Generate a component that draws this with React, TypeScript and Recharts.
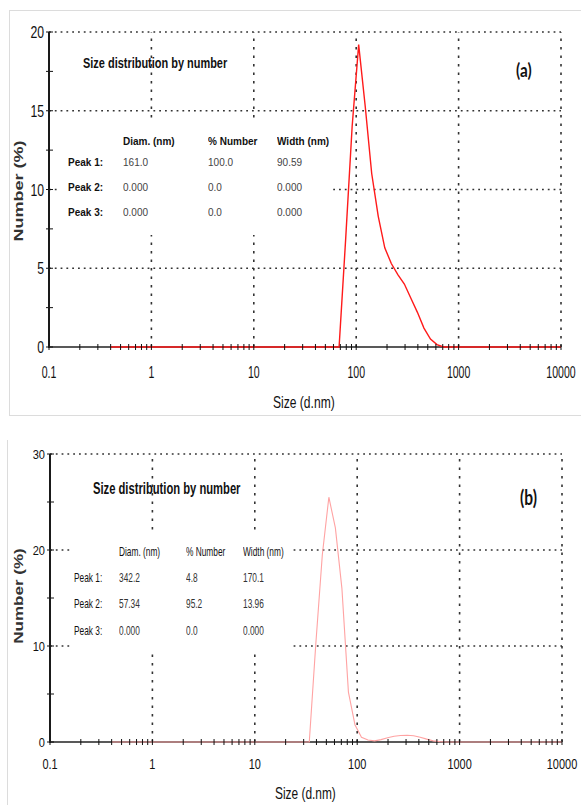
import React from 'react';
import { LineChart, Line, XAxis, YAxis, ReferenceLine } from 'recharts';

// Malvern size classes (d.nm) and % number
const sizesA = [0.4, 58.77, 68.06, 78.82, 91.28, 105.7, 122.4, 141.8, 164.2, 190.1, 220.2, 255.0, 295.3, 342.0, 396.1, 458.7, 531.2, 615.1, 712.4, 825.0, 10000];
const numberA = [0, 0, 0, 6.8, 14.0, 19.2, 15.3, 11.0, 8.3, 6.3, 5.3, 4.6, 4.0, 3.1, 2.2, 1.2, 0.5, 0.15, 0, 0, 0];

const sizesB = [0.4, 29.39, 34.04, 39.42, 45.65, 52.87, 61.22, 70.9, 82.1, 95.07, 110.1, 127.5, 147.7, 171.0, 198.0, 229.3, 265.5, 307.5, 356.1, 412.4, 477.6, 553.1, 640.5, 741.7, 858.9, 10000];
const numberB = [0, 0, 0, 10.2, 19.5, 25.5, 22.3, 16.0, 5.2, 1.8, 0.5, 0.2, 0.12, 0.25, 0.45, 0.6, 0.68, 0.7, 0.65, 0.5, 0.3, 0.12, 0.04, 0, 0, 0];

const majorSizes = [0.1, 1, 10, 100, 1000, 10000];
const minorSteps = [2, 3, 4, 5, 6, 7, 8, 9];
const sizeTickLabels = ['0.1', '1', '10', '100', '1000', '10000'];

const yTicksA = [0, 2.5, 5, 7.5, 10, 12.5, 15, 17.5, 20];
const yLabelsA = [0, 5, 10, 15, 20];
const yTicksB = [0, 5, 10, 15, 20, 25, 30];
const yLabelsB = [0, 10, 20, 30];

const peakHeaders = ['Diam. (nm)', '% Number', 'Width (nm)'];
const peakNames = ['Peak 1:', 'Peak 2:', 'Peak 3:'];
const peaksA = [
  ['161.0', '100.0', '90.59'],
  ['0.000', '0.0', '0.000'],
  ['0.000', '0.0', '0.000'],
];
const peaksB = [
  ['342.2', '4.8', '170.1'],
  ['57.34', '95.2', '13.96'],
  ['0.000', '0.0', '0.000'],
];

const sizeTicks = majorSizes
  .slice(0, -1)
  .flatMap((m) => [m, ...minorSteps.map((s) => +(m * s).toPrecision(3))])
  .concat(majorSizes[majorSizes.length - 1]);

const FONT = '"Liberation Sans", Arial, sans-serif';
const X_AXIS_H = 30;
const Y_AXIS_W = 40;

const SizeTick = (props: any) => {
  const { x, y, payload, fs, sx, dy } = props;
  const i = majorSizes.indexOf(payload.value);
  return (
    <g>
      <line x1={x} x2={x} y1={y - 3} y2={y + 3} stroke="#111" strokeWidth={1} />
      {i >= 0 && (
        <text transform={`translate(${x},${y + dy}) scale(${sx},1)`} textAnchor="middle" fontSize={fs} fontFamily={FONT} fill="#111">
          {sizeTickLabels[i]}
        </text>
      )}
    </g>
  );
};

const NumberTick = (props: any) => {
  const { x, y, payload, labels, fs, sx, dy } = props;
  const show = labels.includes(payload.value);
  return (
    <g>
      <line x1={x - 3} x2={x + 4} y1={y} y2={y} stroke="#111" strokeWidth={1} />
      {show && (
        <text transform={`translate(${x - 5},${y + dy}) scale(${sx},1)`} textAnchor="end" fontSize={fs} fontFamily={FONT} fill="#111">
          {payload.value}
        </text>
      )}
    </g>
  );
};

interface PanelProps {
  sizes: number[];
  values: number[];
  yTicks: number[];
  yLabels: number[];
  yMax: number;
  height: number;
  margin: { top: number; right: number; bottom: number; left: number };
  color: string;
  lineWidth: number;
  xFont: { fs: number; sx: number; dy: number };
  yFont: { fs: number; sx: number; dy: number };
}

const Panel = ({ sizes, values, yTicks, yLabels, yMax, height, margin, color, lineWidth, xFont, yFont }: PanelProps) => {
  const data = sizes.map((s, i) => ({ size: s, value: values[i] }));
  const plotH = height - margin.top - margin.bottom - X_AXIS_H;
  return (
    <div style={{ position: 'relative', width: 581, height }}>
      <LineChart width={581} height={height} data={data} margin={margin}>
        {majorSizes.slice(1).map((v) => (
          <ReferenceLine key={`vx${v}`} x={v} stroke="#333" strokeWidth={1.6} strokeDasharray="2.5 6" ifOverflow="visible" />
        ))}
        {yLabels.slice(1).map((v) => (
          <ReferenceLine key={`hy${v}`} y={v} stroke="#333" strokeWidth={1.6} strokeDasharray="1.8 4" ifOverflow="visible" />
        ))}
        <ReferenceLine y={0} stroke="#222" strokeWidth={1.6} ifOverflow="visible" />
        <XAxis
          dataKey="size"
          type="number"
          scale="log"
          domain={[0.1, 10000]}
          allowDataOverflow
          ticks={sizeTicks}
          interval={0}
          height={X_AXIS_H}
          tickSize={0}
          tickMargin={0}
          tickLine={false}
          axisLine={false}
          tick={(p: any) => <SizeTick {...p} {...xFont} />}
        />
        <YAxis
          type="number"
          domain={[0, yMax]}
          ticks={yTicks}
          interval={0}
          width={Y_AXIS_W}
          tickSize={0}
          tickMargin={0}
          tickLine={false}
          axisLine={false}
          tick={(p: any) => <NumberTick {...p} labels={yLabels} {...yFont} />}
        />
        <Line
          type="linear"
          dataKey="value"
          stroke={color}
          strokeWidth={lineWidth}
          dot={false}
          isAnimationActive={false}
          {...({ zIndex: 1000 } as any)}
        />
      </LineChart>
      {/* solid y axis line */}
      <div
        style={{
          position: 'absolute',
          left: margin.left + Y_AXIS_W - 1,
          top: margin.top,
          width: 2,
          height: plotH + 1,
          background: '#1a1a1a',
          zIndex: 5,
        }}
      />
    </div>
  );
};

const Txt = ({ x, y, fs, sx = 1, bold = false, color = '#111', family = FONT, children }: any) => (
  <div
    style={{
      position: 'absolute',
      left: x,
      top: y - fs / 2,
      fontSize: fs,
      lineHeight: `${fs}px`,
      fontWeight: bold ? 700 : 400,
      color,
      fontFamily: family,
      transform: `scaleX(${sx})`,
      transformOrigin: '0 50%',
      whiteSpace: 'nowrap',
    }}
  >
    {children}
  </div>
);

const VTitle = ({ x, y, fs, children }: any) => (
  <div
    style={{
      position: 'absolute',
      left: x,
      top: y,
      fontSize: fs,
      lineHeight: `${fs}px`,
      fontWeight: 700,
      color: '#333',
      fontFamily: FONT,
      transform: 'translate(-50%,-50%) rotate(-90deg) scaleY(0.72)',
      whiteSpace: 'nowrap',
    }}
  >
    {children}
  </div>
);

const PeakTable = ({ rows, cols, nameX, rowsY, headY, fs, sx, boldHead, boldNames, valueColor }: any) => (
  <>
    {peakHeaders.map((h, i) => (
      <Txt key={h} x={cols[i]} y={headY} fs={fs} sx={sx} bold={boldHead}>
        {h}
      </Txt>
    ))}
    {peakNames.map((n, r) => (
      <React.Fragment key={n}>
        <Txt x={nameX} y={rowsY[r]} fs={fs} sx={sx} bold={boldNames}>
          {n}
        </Txt>
        {rows[r].map((v: string, c: number) => (
          <Txt key={c} x={cols[c]} y={rowsY[r]} fs={fs} sx={sx} color={valueColor}>
            {v}
          </Txt>
        ))}
      </React.Fragment>
    ))}
  </>
);

export default function App() {
  return (
    <div style={{ position: 'absolute', left: 0, top: 0, width: 581, height: 805, background: '#fff', overflow: 'hidden' }}>
      {/* frames */}
      <div style={{ position: 'absolute', left: 9, top: 10, width: 580, height: 404, border: '1px solid #dcdcdc' }} />
      <div style={{ position: 'absolute', left: 7, top: 440, width: 0, height: 370, borderLeft: '1px solid #dcdcdc' }} />

      <div style={{ position: 'absolute', left: 0, top: 0 }}>
        <Panel
          sizes={sizesA}
          values={numberA}
          yTicks={yTicksA}
          yLabels={yLabelsA}
          yMax={20}
          height={420}
          margin={{ top: 32, right: 20, bottom: 43, left: 9 }}
          color="#ff1a1a"
          lineWidth={1.4}
          xFont={{ fs: 17, sx: 0.62, dy: 31 }}
          yFont={{ fs: 17, sx: 0.72, dy: 6 }}
        />
      </div>
      <div style={{ position: 'absolute', left: 0, top: 420 }}>
        <Panel
          sizes={sizesB}
          values={numberB}
          yTicks={yTicksB}
          yLabels={yLabelsB}
          yMax={30}
          height={385}
          margin={{ top: 34, right: 19, bottom: 33, left: 10 }}
          color="#ffa3a3"
          lineWidth={1.1}
          xFont={{ fs: 15, sx: 0.73, dy: 27 }}
          yFont={{ fs: 13, sx: 0.85, dy: 5 }}
        />
      </div>

      {/* panel (a) annotations */}
      <div style={{ position: 'absolute', left: 58, top: 118, width: 272, height: 117, background: '#fff' }} />
      <Txt x={83} y={62} fs={15} sx={0.73} bold>
        Size distribution by number
      </Txt>
      <Txt x={516} y={70} fs={18} sx={0.85} bold family="Lato, sans-serif">
        (a)
      </Txt>
      <PeakTable
        rows={peaksA}
        cols={[123, 208, 277]}
        nameX={68}
        rowsY={[163, 188, 213]}
        headY={142}
        fs={11.5}
        sx={0.87}
        boldHead
        boldNames
        valueColor="#444"
      />
      <Txt x={273} y={402} fs={17} sx={0.71}>
        Size (d.nm)
      </Txt>
      <VTitle x={19} y={191} fs={18}>
        Number (%)
      </VTitle>

      {/* panel (b) annotations */}
      <div style={{ position: 'absolute', left: 72, top: 530, width: 218, height: 121, background: '#fff' }} />
      <Txt x={93} y={489} fs={16} sx={0.7} bold>
        Size distribution by number
      </Txt>
      <Txt x={520} y={496} fs={21} sx={0.74} bold family="Lato, sans-serif">
        (b)
      </Txt>
      <PeakTable
        rows={peaksB}
        cols={[119, 186, 243]}
        nameX={74}
        rowsY={[577, 603, 630]}
        headY={551}
        fs={13}
        sx={0.64}
        boldHead={false}
        boldNames={false}
        valueColor="#333"
      />
      <Txt x={275} y={793} fs={17} sx={0.7}>
        Size (d.nm)
      </Txt>
      <VTitle x={19} y={596} fs={17}>
        Number (%)
      </VTitle>
    </div>
  );
}
